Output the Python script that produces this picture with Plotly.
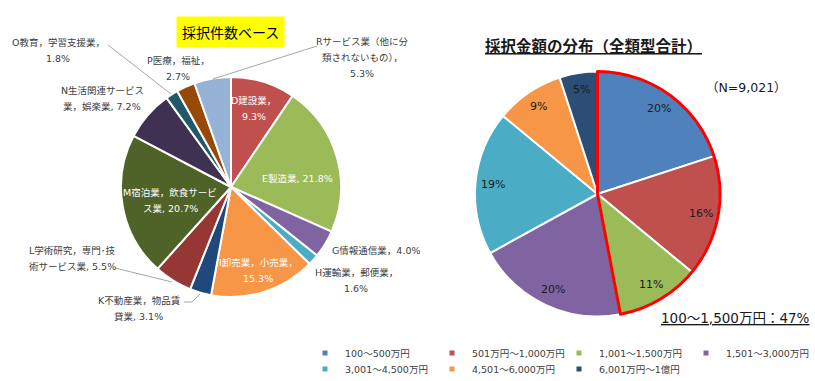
import math
import plotly.graph_objects as go

W, H = 815, 381

# ---------------- data ----------------
LEFT_CATS = ["D建設業", "E製造業", "G情報通信業", "H運輸業，郵便業", "I卸売業，小売業",
             "K不動産業，物品賃貸業", "L学術研究，専門･技術サービス業", "M宿泊業，飲食サービス業",
             "N生活関連サービス業，娯楽業", "O教育，学習支援業", "P医療，福祉",
             "Rサービス業（他に分類されないもの）"]
LEFT_VALUES = [9.3, 21.8, 4.0, 1.6, 15.3, 3.1, 5.5, 20.7, 7.2, 1.8, 2.7, 5.3]
LEFT_COLORS = ["#C0504D", "#9BBB59", "#8064A2", "#4BACC6", "#F79646", "#1F497D",
               "#953735", "#4F6228", "#3F3151", "#215968", "#984807", "#95B3D7"]

RIGHT_CATS = ["100～500万円", "501万円～1,000万円", "1,001～1,500万円", "1,501～3,000万円",
              "3,001～4,500万円", "4,501～6,000万円", "6,001万円～1億円"]
RIGHT_VALUES = [20, 16, 11, 20, 19, 9, 5]
RIGHT_COLORS = ["#4F81BD", "#C0504D", "#9BBB59", "#8064A2", "#4BACC6", "#F79646", "#2C4D75"]
N_TOTAL = "9,021"
HIGHLIGHT_COUNT = 3  # first three brackets = 100～1,500万円

# ---------------- label layout (text lines, centre px, inside?) ----------------
LEFT_LINE_FMT = [
    ["D建設業，", "{v}%"],
    ["E製造業, {v}%"],
    ["G情報通信業，{v}%"],
    ["H運輸業，郵便業，", "{v}%"],
    ["I卸売業，小売業，", "{v}%"],
    ["K不動産業，物品賃", "貸業, {v}%"],
    ["L学術研究，専門･技", "術サービス業, {v}%"],
    ["M宿泊業，飲食サービ", "ス業, {v}%"],
    ["N生活関連サービス", "業，娯楽業, {v}%"],
    ["O教育，学習支援業，", "{v}%"],
    ["P医療，福祉，", "{v}%"],
    ["Rサービス業（他に分", "類されないもの），", "{v}%"],
]
LEFT_LABEL_POS = [(254, 108.5), (297, 178), (376, 250), (356, 280.5), (258, 270),
                  (138.5, 308.5), (72, 258), (170, 200.5), (102, 98.5), (58, 50),
                  (178, 68.5), (362, 57.5)]
LEFT_INSIDE = [True, True, False, False, True, False, False, True, False, False, False, False]
LEADERS = [
    [(108, 45), (171, 94)],
    [(317, 46), (213, 79)],
    [(115, 268), (172, 282)],
    [(184, 302), (192, 302), (200, 294)],
]

FONT = "DejaVu Sans, Noto Sans CJK JP"
CJK = "Noto Sans CJK JP"


def px(x):
    return x / W


def py(y):
    return 1 - y / H


# pie geometry (px)
LCX, LCY, LR = 231, 187, 110
RCX, RCY, RR = 597.5, 194, 122.5

fig = go.Figure()

fig.add_trace(go.Pie(
    labels=LEFT_CATS, values=LEFT_VALUES, sort=False, direction="clockwise", rotation=0,
    marker=dict(colors=LEFT_COLORS, line=dict(color="white", width=2)),
    textinfo="none", showlegend=False,
    domain=dict(x=[px(LCX - LR), px(LCX + LR)], y=[py(LCY + LR), py(LCY - LR)]),
))

fig.add_trace(go.Pie(
    labels=RIGHT_CATS, values=RIGHT_VALUES, sort=False, direction="clockwise", rotation=0,
    marker=dict(colors=RIGHT_COLORS, line=dict(color="white", width=2)),
    textinfo="none", showlegend=False,
    domain=dict(x=[px(RCX - RR), px(RCX + RR)], y=[py(RCY + RR), py(RCY - RR)]),
))

hl = sum(RIGHT_VALUES[:HIGHLIGHT_COUNT])
rest = sum(RIGHT_VALUES[HIGHLIGHT_COUNT:])
fig.add_trace(go.Pie(
    labels=["hl", "rest"], values=[hl, rest], sort=False, direction="clockwise", rotation=0,
    marker=dict(colors=["rgba(0,0,0,0)", "rgba(0,0,0,0)"],
                line=dict(color=["#FF0000", "rgba(0,0,0,0)"], width=[3, 0])),
    textinfo="none", showlegend=False, hoverinfo="skip",
    domain=dict(x=[px(RCX - RR), px(RCX + RR)], y=[py(RCY + RR), py(RCY - RR)]),
))

# legend entries via marker-only traces
for i, (c, col) in enumerate(zip(RIGHT_CATS, RIGHT_COLORS)):
    fig.add_trace(go.Scatter(
        x=[None], y=[None], mode="markers", name=c,
        marker=dict(symbol="square", size=5, color=col),
        legend="legend" if i < 4 else "legend2", hoverinfo="skip",
    ))

ann = []


def add_lines(lines, cx, cy, color, size=9.5, gap=16):
    n = len(lines)
    for i, t in enumerate(lines):
        y = cy + (i - (n - 1) / 2) * gap
        ann.append(dict(x=px(cx), y=py(y), xref="paper", yref="paper", text=t,
                        showarrow=False, xanchor="center", yanchor="middle",
                        font=dict(family=FONT, size=size, color=color)))


for fmt, v, (cx, cy), inside in zip(LEFT_LINE_FMT, LEFT_VALUES, LEFT_LABEL_POS, LEFT_INSIDE):
    lines = [s.format(v=f"{v:.1f}") for s in fmt]
    add_lines(lines, cx, cy, "white" if inside else "#404040")

# right pie percentage labels along slice bisectors
tot = sum(RIGHT_VALUES)
cum = 0
for v in RIGHT_VALUES:
    th = 2 * math.pi * (cum + v / 2) / tot
    cum += v
    x = RCX + 0.86 * RR * math.sin(th)
    y = RCY - 0.86 * RR * math.cos(th)
    add_lines([f"{v}%"], x, y, "#1a1a1a", size=11)

# titles
ann.append(dict(x=px(231), y=py(32), xref="paper", yref="paper", text="採択件数ベース",
                showarrow=False, xanchor="center", yanchor="middle", bgcolor="#FFFF00",
                borderpad=5, font=dict(family=CJK, size=14, color="black")))
ann.append(dict(x=px(593), y=py(45), xref="paper", yref="paper",
                text="<b><u>採択金額の分布（全類型合計）</u></b>",
                showarrow=False, xanchor="center", yanchor="middle",
                font=dict(family=CJK, size=15.5, color="#1a1a1a")))
ann.append(dict(x=px(746), y=py(87), xref="paper", yref="paper", text=f"（N={N_TOTAL}）",
                showarrow=False, xanchor="center", yanchor="middle",
                font=dict(family=FONT, size=12.5, color="#1a1a1a")))
ann.append(dict(x=px(735), y=py(318), xref="paper", yref="paper",
                text=f"<u>{RIGHT_CATS[0].split('～')[0]}～{RIGHT_CATS[HIGHLIGHT_COUNT - 1].split('～')[1]}：{round(hl / tot * 100)}%</u>",
                showarrow=False, xanchor="center", yanchor="middle",
                font=dict(family=FONT, size=13.5, color="#1a1a1a")))

shapes = []
for pts in LEADERS:
    path = "M " + " L ".join(f"{px(x)},{py(y)}" for x, y in pts)
    shapes.append(dict(type="path", xref="paper", yref="paper", path=path,
                       line=dict(color="#A6A6A6", width=1)))

leg_common = dict(orientation="h", xanchor="left", yanchor="top", entrywidth=82,
                  entrywidthmode="pixels", bgcolor="rgba(0,0,0,0)", itemwidth=30,
                  font=dict(family=FONT, size=9.5, color="#404040"))

fig.update_layout(
    width=W, height=H,
    margin=dict(l=0, r=0, t=0, b=0, autoexpand=False),
    paper_bgcolor="white", plot_bgcolor="rgba(0,0,0,0)",
    xaxis=dict(visible=False), yaxis=dict(visible=False),
    annotations=ann, shapes=shapes,
    legend=dict(x=px(345 - 40), y=py(353 - 14.5), **leg_common),
    legend2=dict(x=px(345 - 40), y=py(369 - 14.5), **leg_common),
)

fig.write_html("out.html", config={"displayModeBar": False},
               post_script="document.body.style.margin='0';")
